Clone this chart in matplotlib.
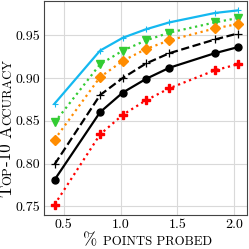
import matplotlib
matplotlib.use('Agg')
import matplotlib.pyplot as plt
import numpy as np

plt.rcParams['font.family'] = 'cmr10'
plt.rcParams['axes.unicode_minus'] = False
plt.rcParams['mathtext.fontset'] = 'cm'

x = [0.42, 0.82, 1.02, 1.225, 1.43, 1.83, 2.03]

cyan = [0.870, 0.932, 0.947, 0.957, 0.965, 0.976, 0.979]
green = [0.848, 0.916, 0.932, 0.944, 0.953, 0.965, 0.970]
orange = [0.828, 0.901, 0.920, 0.934, 0.944, 0.958, 0.963]
dashed = [0.799, 0.880, 0.900, 0.917, 0.929, 0.945, 0.952]
solid = [0.781, 0.860, 0.883, 0.899, 0.912, 0.929, 0.936]
red = [0.752, 0.834, 0.857, 0.874, 0.888, 0.909, 0.916]

yticks = [0.75, 0.80, 0.85, 0.90, 0.95]
xticks = [0.5, 1.0, 1.5, 2.0]

fig = plt.figure(figsize=(2.49, 2.49), dpi=100)
ax = fig.add_axes([0.178, 0.137, 0.813, 0.859])

ax.plot(x, cyan, '-', color='#14b8f0', lw=1.6, marker='+', ms=4, mew=0.8)
ax.plot(x, green, ':', color='#33cc33', lw=1.6, marker='v', ms=5.5)
ax.plot(x, orange, ':', color='#ff8c00', lw=1.6, marker='D', ms=5)
ax.plot(x, dashed, '--', color='black', lw=1.6, marker='+', ms=6, mew=0.9)
ax.plot(x, solid, '-', color='black', lw=1.6, marker='o', ms=5)
ax.plot(x, red, ':', color='red', lw=1.6, marker='P', ms=6)

ax.set_xlim(0.33, 2.11)
ax.set_ylim(0.740, 0.990)
ax.set_xticks(xticks)
ax.set_xticklabels(['%.1f' % v for v in xticks])
ax.set_yticks(yticks)
ax.set_yticklabels(['%.2f' % v for v in yticks])
ax.tick_params(length=0, labelsize=10, pad=3)
ax.grid(color='#d9d9d9', lw=0.8)
ax.set_axisbelow(True)
for s in ax.spines.values():
    s.set_color('#444444')
    s.set_linewidth(0.8)


def smallcaps(parts, x0, y0, rotation=0):
    # parts: list of (text, size); laid out one after another in pixels
    r = fig.canvas.get_renderer()
    pos = x0 if rotation == 0 else y0
    for txt, size in parts:
        if rotation == 0:
            t = fig.text(pos / 249, y0 / 249, txt, fontsize=size, ha='left', va='baseline')
            bb = t.get_window_extent(r)
            pos += bb.width
        else:
            t = fig.text(x0 / 249, pos / 249, txt, fontsize=size, rotation=90,
                         ha='left', va='bottom', rotation_mode='anchor')
            bb = t.get_window_extent(r)
            pos += bb.height


big, small = 12.2, 9.2
smallcaps([('% ', big), ('POINTS PROBED', small)], 83, 4)
smallcaps([('T', big), ('OP', small), ('-10 ', big), ('A', big), ('CCURACY', small)],
          14, 52, rotation=90)

fig.savefig('out.png', dpi=100)
